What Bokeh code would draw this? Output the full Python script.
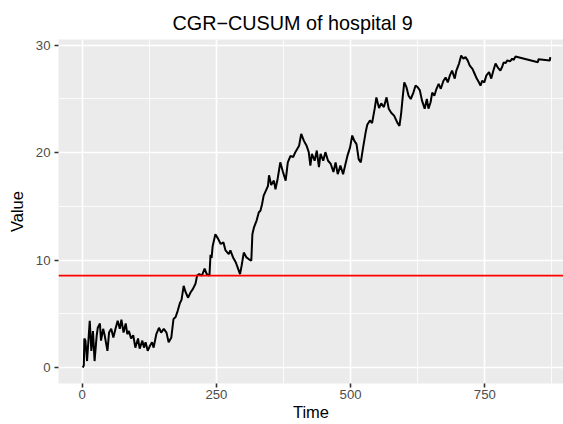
from bokeh.plotting import figure
from bokeh.models import FixedTicker, Span, Title
from bokeh.embed import file_html
from bokeh.resources import INLINE

# CGR-CUSUM path (time, value)
time = [1, 3, 4, 6, 9, 14, 17, 20, 23, 27, 29, 33, 35, 39, 42, 47, 50, 54, 58, 62,
        66, 70, 73, 77, 81, 84, 87, 91, 95, 99, 104, 107, 112, 115, 118, 122, 126,
        130, 133, 138, 143, 147, 152, 157, 161, 166, 170, 174, 178, 182, 185, 189,
        192, 197, 202, 206, 211, 214, 218, 223, 228, 232, 235, 237, 239, 241, 243,
        248, 253, 258, 263, 267, 273, 276, 281, 286, 290, 294, 297, 301, 306, 310,
        315, 317, 320, 325, 329, 332, 335, 338, 342, 346, 348, 352, 357, 360, 364,
        369, 374, 379, 383, 388, 393, 397, 404, 408, 413, 418, 422, 425, 428, 433,
        437, 441, 444, 449, 453, 458, 463, 468, 472, 476, 481, 486, 489, 494, 499,
        503, 507, 511, 515, 519, 523, 528, 531, 536, 540, 545, 548, 553, 557, 562,
        567, 571, 576, 581, 587, 591, 594, 597, 600, 604, 608, 612, 617, 621, 625,
        629, 633, 638, 642, 645, 649, 652, 656, 660, 664, 668, 673, 677, 681, 685,
        689, 694, 697, 702, 706, 710, 714, 718, 722, 727, 731, 735, 739, 742, 745,
        749, 753, 758, 762, 766, 770, 774, 779, 782, 785, 789, 792, 797, 801, 804,
        807, 849, 850, 871, 872]
value = [0.0, 0.2, 2.7, 2.5, 0.6, 4.35, 1.55, 3.4, 0.6, 3.0, 3.7, 4.1, 2.5, 3.6,
         2.95, 1.55, 3.25, 3.6, 2.8, 3.6, 4.35, 3.6, 4.45, 3.25, 4.1, 3.1, 3.4, 2.7,
         3.0, 1.85, 2.7, 1.75, 2.5, 1.85, 2.35, 1.55, 2.0, 2.35, 1.85, 3.1, 3.7,
         3.25, 3.6, 3.25, 2.35, 2.8, 4.5, 4.7, 5.3, 6.0, 6.3, 7.6, 7.1, 6.5, 7.0,
         7.3, 7.8, 8.55, 8.7, 8.55, 9.2, 8.7, 8.6, 8.55, 10.5, 10.2, 11.3, 12.4,
         12.0, 11.5, 11.65, 10.9, 10.55, 10.9, 10.25, 9.8, 9.25, 8.7, 9.5, 10.7,
         10.25, 10.1, 9.95, 12.4, 13.05, 13.7, 14.45, 14.6, 15.2, 16.0, 16.45, 16.9,
         17.9, 17.0, 17.4, 16.6, 17.55, 19.1, 18.2, 17.4, 19.1, 19.7, 19.6, 20.05,
         20.65, 21.75, 21.1, 20.65, 20.05, 18.8, 19.9, 19.25, 20.2, 18.65, 19.9,
         19.25, 20.05, 19.25, 18.95, 18.2, 19.1, 18.0, 18.8, 18.0, 18.65, 19.7, 20.5,
         21.6, 21.1, 20.8, 19.4, 19.1, 20.4, 21.9, 22.6, 23.0, 22.75, 24.15, 25.15,
         24.15, 24.6, 24.25, 25.15, 24.1, 23.7, 23.45, 22.8, 22.5, 23.6, 25.15,
         26.55, 26.1, 25.3, 25.0, 25.6, 26.25, 26.1, 25.8, 24.85, 24.1, 25.0, 24.1,
         24.7, 25.6, 25.3, 25.95, 26.4, 25.95, 26.7, 27.0, 26.55, 27.2, 27.65, 26.9,
         27.65, 28.3, 29.05, 28.75, 28.9, 28.6, 28.1, 27.8, 27.35, 26.9, 26.55,
         26.25, 26.7, 26.55, 27.2, 27.5, 26.9, 27.65, 28.3, 27.95, 27.65, 27.95,
         28.4, 28.35, 28.6, 28.5, 28.75, 28.65, 28.95, 28.43, 28.7, 28.58, 28.9]

threshold = 8.55

x_ticks = [0, 250, 500, 750]
x_minor = [125, 375, 625, 875]
y_ticks = [0, 10, 20, 30]
y_minor = [5, 15, 25]

FONT = "Liberation Sans"

p = figure(width=563, height=424,
           x_range=(-44.2, 896.6), y_range=(-1.49, 30.54),
           output_backend="svg", toolbar_location=None,
           min_border_left=58, min_border_right=0,
           min_border_top=39, min_border_bottom=41,
           background_fill_color="#EBEBEB", border_fill_color="white",
           outline_line_color=None)

p.title = Title(text="CGR\u2212CUSUM of hospital 9", align="left", offset=114,
                text_font=FONT, text_font_size="19.8px", text_font_style="normal",
                text_color="black", standoff=12)

p.xaxis.ticker = FixedTicker(ticks=x_ticks, minor_ticks=x_minor)
p.yaxis.ticker = FixedTicker(ticks=y_ticks, minor_ticks=y_minor)

for ax in (p.xaxis, p.yaxis):
    ax.axis_line_color = None
    ax.major_tick_in = 0
    ax.major_tick_out = 4
    ax.minor_tick_in = 0
    ax.minor_tick_out = 0
    ax.major_tick_line_color = "#333333"
    ax.major_tick_line_width = 1.6
    ax.major_label_text_font = FONT
    ax.major_label_text_font_size = "13.2px"
    ax.major_label_text_color = "#4D4D4D"
    ax.axis_label_text_font = FONT
    ax.axis_label_text_font_size = "16.5px"
    ax.axis_label_text_font_style = "normal"
    ax.axis_label_text_color = "black"

p.xaxis.axis_label = "Time"
p.yaxis.axis_label = "Value"
p.xaxis.major_label_standoff = 2
p.xaxis.axis_label_standoff = 1
p.yaxis.major_label_standoff = 4
p.yaxis.axis_label_standoff = 7

for g in (p.xgrid, p.ygrid):
    g.grid_line_color = "white"
    g.grid_line_width = 1.6
    g.minor_grid_line_color = "white"
    g.minor_grid_line_width = 0.8

p.line(time, value, line_color="black", line_width=2)
p.add_layout(Span(location=threshold, dimension="width", line_color="#FF0000", line_width=1.6))

open("out.html", "w").write(file_html(p, INLINE))
